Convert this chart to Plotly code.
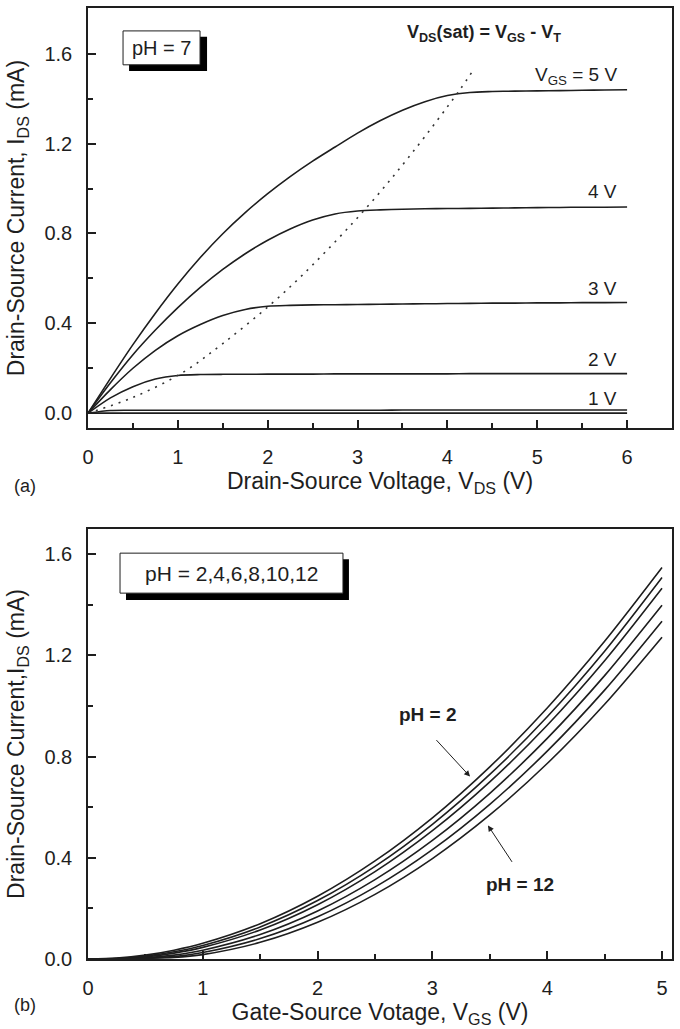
import plotly.graph_objects as go

# ---------------- Panel (a): output characteristics, pH = 7 ----------------
vds = [0, 0.25, 0.5, 0.75, 1.0, 1.25, 1.5, 1.75, 2.0, 2.25, 2.5, 2.75, 3.0, 3.25, 3.5, 3.75,
       4.0, 4.25, 4.5, 4.75, 5.0, 5.25, 5.5, 5.75, 6.0]
ids_vgs5 = [0, 0.155, 0.305, 0.445, 0.575, 0.693, 0.799, 0.893, 0.977, 1.053, 1.122, 1.185, 1.247,
            1.302, 1.349, 1.387, 1.414, 1.428, 1.432, 1.434, 1.435, 1.436, 1.438, 1.439, 1.440]
ids_vgs4 = [0, 0.135, 0.260, 0.370, 0.470, 0.560, 0.640, 0.710, 0.770, 0.820, 0.860, 0.887, 0.900,
            0.905, 0.908, 0.910, 0.911, 0.912, 0.913, 0.914, 0.915, 0.916, 0.917, 0.917, 0.918]
ids_vgs3 = [0, 0.105, 0.200, 0.280, 0.345, 0.395, 0.435, 0.462, 0.476, 0.480, 0.482, 0.483, 0.484,
            0.485, 0.486, 0.487, 0.488, 0.489, 0.490, 0.490, 0.491, 0.491, 0.492, 0.492, 0.493]
ids_vgs2 = [0, 0.068, 0.118, 0.152, 0.168, 0.172, 0.173, 0.173, 0.174, 0.174, 0.174, 0.175, 0.175,
            0.175, 0.175, 0.175, 0.175, 0.176, 0.176, 0.176, 0.176, 0.176, 0.176, 0.176, 0.176]
ids_vgs1 = [0, 0.012, 0.013, 0.013, 0.013, 0.013, 0.013, 0.013, 0.013, 0.013, 0.013, 0.013, 0.013,
            0.013, 0.014, 0.014, 0.014, 0.014, 0.014, 0.014, 0.014, 0.014, 0.014, 0.014, 0.014]
ids_vgs0 = [0, 0, 0, 0, 0, 0, 0, 0, 0, 0, 0, 0, 0, 0, 0, 0, 0, 0, 0, 0, 0, 0, 0, 0, 0]

vsat_x = [0, 0.5, 1.05, 1.5, 2.05, 2.5, 3.1, 3.6, 4.13, 4.3]
vsat_y = [0, 0.07, 0.18, 0.31, 0.49, 0.66, 0.915, 1.155, 1.435, 1.535]

curve_labels_a = ["V<sub>GS</sub> = 5 V", "4 V", "3 V", "2 V", "1 V"]
label_y_a = [1.502, 0.987, 0.556, 0.240, 0.067]

# ---------------- Panel (b): transfer characteristics vs pH ----------------
vgs = [0, 0.25, 0.5, 0.75, 1.0, 1.5, 2.0, 2.5, 3.0, 3.5, 4.0, 4.5, 5.0]
ids_ph2 = [0, 0.0039, 0.0155, 0.0349, 0.062, 0.1395, 0.248, 0.3875, 0.558, 0.7595, 0.992, 1.2555, 1.547]
ids_ph4 = [0, 0.0020, 0.0115, 0.0287, 0.0536, 0.1268, 0.2309, 0.3661, 0.5323, 0.7294, 0.9576, 1.2167, 1.508]
ids_ph6 = [0, 0.0015, 0.0080, 0.0231, 0.0459, 0.1147, 0.2145, 0.3453, 0.5071, 0.7000, 0.9238, 1.1786, 1.465]
ids_ph8 = [0, 0.0012, 0.0045, 0.0155, 0.0349, 0.0969, 0.1899, 0.3139, 0.4689, 0.6549, 0.8719, 1.1199, 1.398]
ids_ph10 = [0, 0.0010, 0.0040, 0.0094, 0.0254, 0.0806, 0.1668, 0.2839, 0.4321, 0.6113, 0.8215, 1.0627, 1.335]
ids_ph12 = [0, 0.0010, 0.0030, 0.0060, 0.0174, 0.0658, 0.1451, 0.2555, 0.3969, 0.5692, 0.7726, 1.0069, 1.272]

FONT = "Liberation Sans, Arial, Helvetica, sans-serif"
INK = "#1e1e1e"

fig = go.Figure()

line_style = dict(color=INK, width=1.6, shape="spline", smoothing=0.8)
for ys in [ids_vgs5, ids_vgs4, ids_vgs3, ids_vgs2, ids_vgs1, ids_vgs0]:
    fig.add_trace(go.Scatter(x=vds, y=ys, mode="lines", line=line_style,
                             showlegend=False, xaxis="x", yaxis="y", hoverinfo="skip"))
fig.add_trace(go.Scatter(x=vsat_x, y=vsat_y, mode="lines",
                         line=dict(color="#333", width=1.6, dash="2px,6px", shape="spline"),
                         showlegend=False, xaxis="x", yaxis="y", hoverinfo="skip"))

for ys in [ids_ph2, ids_ph4, ids_ph6, ids_ph8, ids_ph10, ids_ph12]:
    fig.add_trace(go.Scatter(x=vgs, y=ys, mode="lines", line=line_style,
                             showlegend=False, xaxis="x2", yaxis="y2", hoverinfo="skip"))

tickfont = dict(family=FONT, size=20, color=INK)
titlefont = dict(family=FONT, size=23, color=INK)

common = dict(showline=True, linecolor=INK, linewidth=1.5, mirror=True,
              ticks="inside", ticklen=8, tickwidth=1.5, tickcolor=INK,
              showgrid=False, zeroline=False, tickfont=tickfont,
              ticklabelstandoff=10)
minor_x = dict(dtick=0.5, tick0=0, ticks="inside", ticklen=5, tickwidth=1.5, tickcolor=INK)
minor_y = dict(dtick=0.2, tick0=0, ticks="inside", ticklen=5, tickwidth=1.5, tickcolor=INK)

fig.update_layout(
    width=680, height=1029,
    margin=dict(l=88, r=8, t=6, b=70),
    paper_bgcolor="white", plot_bgcolor="white",
    font=dict(family=FONT, color=INK),
    xaxis=dict(domain=[0, 1], anchor="y", range=[0, 6.5], tickvals=[0, 1, 2, 3, 4, 5, 6],
               minor=minor_x,
               title=dict(text="Drain-Source Voltage, V<sub>DS</sub> (V)", font=titlefont, standoff=2),
               **common),
    yaxis=dict(domain=[0.5582, 1], anchor="x", range=[-0.0667, 1.804],
               tickvals=[0, 0.4, 0.8, 1.2, 1.6], tickformat=".1f", minor=minor_y,
               title=dict(text="Drain-Source Current, I<sub>DS</sub> (mA)", font=titlefont, standoff=13),
               **common),
    xaxis2=dict(domain=[0, 1], anchor="y2", range=[0, 5.087], tickvals=[0, 1, 2, 3, 4, 5],
                minor=minor_x,
                title=dict(text="Gate-Source Votage, V<sub>GS</sub> (V)", font=titlefont, standoff=6),
                **common),
    yaxis2=dict(domain=[0, 0.4523], anchor="x2", range=[0, 1.7],
                tickvals=[0, 0.4, 0.8, 1.2, 1.6], tickformat=".1f", minor=minor_y,
                title=dict(text="Drain-Source Current,I<sub>DS</sub> (mA)", font=titlefont, standoff=13),
                **common),
)

# boxes with drop shadows
shapes = [
    dict(type="rect", xref="x", yref="y", x0=0.457, x1=1.325, y0=1.524, y1=1.676,
         fillcolor="black", line=dict(width=0)),
    dict(type="rect", xref="x", yref="y", x0=0.390, x1=1.247, y0=1.551, y1=1.702,
         fillcolor="white", line=dict(color=INK, width=1)),
    dict(type="rect", xref="x2", yref="y2", x0=0.331, x1=2.273, y0=1.419, y1=1.580,
         fillcolor="black", line=dict(width=0)),
    dict(type="rect", xref="x2", yref="y2", x0=0.279, x1=2.221, y0=1.446, y1=1.604,
         fillcolor="white", line=dict(color=INK, width=1)),
]
fig.update_layout(shapes=shapes)

ann = []
ann.append(dict(x=0.818, y=1.627, xref="x", yref="y", text="pH = 7", showarrow=False,
                font=dict(family=FONT, size=20, color=INK)))
ann.append(dict(x=4.41, y=1.69, xref="x", yref="y",
                text="<b>V<sub>DS</sub>(sat) = V<sub>GS</sub> - V<sub>T</sub></b>",
                showarrow=False, font=dict(family=FONT, size=18, color=INK)))
for t, yv in zip(curve_labels_a, label_y_a):
    ann.append(dict(x=5.91, y=yv, xref="x", yref="y", text=t, showarrow=False,
                    xanchor="right", font=dict(family=FONT, size=19, color=INK)))
ann.append(dict(x=1.246, y=1.525, xref="x2", yref="y2", text="pH = 2,4,6,8,10,12",
                showarrow=False, font=dict(family=FONT, size=21, color=INK)))
ann.append(dict(x=2.962, y=0.966, xref="x2", yref="y2", text="<b>pH = 2</b>",
                showarrow=False, font=dict(family=FONT, size=19, color=INK)))
ann.append(dict(x=3.763, y=0.296, xref="x2", yref="y2", text="<b>pH = 12</b>",
                showarrow=False, font=dict(family=FONT, size=19, color=INK)))
ann.append(dict(x=3.328, y=0.721, xref="x2", yref="y2", ax=3.023, ay=0.871,
                axref="x2", ayref="y2", text="", showarrow=True, arrowhead=2,
                arrowsize=1.2, arrowwidth=1, arrowcolor=INK))
ann.append(dict(x=3.484, y=0.528, xref="x2", yref="y2", ax=3.702, ay=0.378,
                axref="x2", ayref="y2", text="", showarrow=True, arrowhead=2,
                arrowsize=1.2, arrowwidth=1, arrowcolor=INK))
ann.append(dict(x=-0.130, y=0.4974, xref="paper", yref="paper", text="(a)", showarrow=False,
                font=dict(family=FONT, size=18, color=INK)))
ann.append(dict(x=-0.130, y=-0.0609, xref="paper", yref="paper", text="(b)", showarrow=False,
                font=dict(family=FONT, size=18, color=INK)))
fig.update_layout(annotations=ann)

fig.write_html("out.html")
